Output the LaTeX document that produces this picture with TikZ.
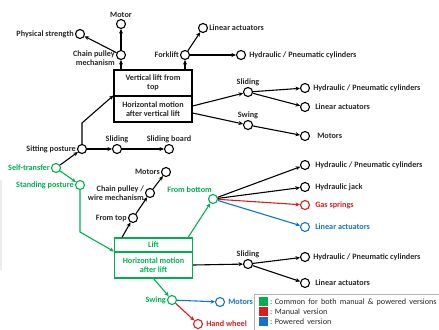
\documentclass[tikz,border=0pt]{standalone}
\usepackage{fontspec}
\setmainfont{Carlito}
\usetikzlibrary{arrows.meta,calc}
\definecolor{cgreen}{RGB}{0,176,80}
\definecolor{cred}{RGB}{215,30,30}
\definecolor{cblue}{RGB}{20,115,200}
\definecolor{ctext}{RGB}{40,40,40}
\begin{document}
\begin{tikzpicture}[x=1bp,y=-1bp,
  every node/.style={font=\fontsize{8.2}{9}\selectfont\bfseries,text=ctext},
  dot/.style={circle,draw,line width=1.1bp,minimum size=9bp,inner sep=0pt},
  lbl/.style={inner sep=1bp},
  rl/.style={inner sep=1bp,label distance=4bp},
  arr/.style={line width=1.1bp,-{Stealth[length=4.5bp,width=4bp]}},
  ln/.style={line width=1.1bp},
  box/.style={draw,line width=1.1bp,minimum width=78bp,align=center,inner sep=1bp},
  legtext/.style={font=\fontsize{8.2}{9}\selectfont,anchor=west,inner sep=0pt},
]
\useasboundingbox (0,0) rectangle (439,329);
\fill[gray!15] (0,180) rectangle (2,270);

% ---- top box
\node[box,minimum height=26bp] (vl) at (153,83) {Vertical lift from\\top};
\node[box,minimum height=26bp] (hm) at (153,109) {Horizontal motion\\after vertical lift};

\node[dot,label={[lbl,align=right,yshift=-3bp]left:{Chain pulley\\mechanism}}] (cpm) at (121,55) {};
\node[dot,label={[lbl]above:Motor}] (motor) at (121,24) {};
\node[dot,label={[lbl]left:Physical strength}] (phys) at (80,34) {};
\node[dot,label={[lbl]left:Forklift}] (fork) at (185,55) {};
\node[dot,label={[lbl]right:Linear actuators}] (la1) at (203,28) {};
\node[dot,label={[lbl,label distance=2bp]right:Hydraulic / Pneumatic cylinders}] (hp1) at (241,55) {};

\node[dot,label={[lbl]above:Sliding}] (sl1) at (248,92) {};
\node[dot,label={[lbl]above:Swing}] (sw1) at (248,125) {};
\node[dot,label={[rl,label distance=2bp]right:Hydraulic / Pneumatic cylinders}] (hp2) at (305,88) {};
\node[dot,label={[rl]right:Linear actuators}] (la2) at (305,107) {};
\node[dot,label={[rl,label distance=6bp]right:Motors}] (mo1) at (305,136) {};

% ---- left
\node[dot,label={[lbl]left:Sitting posture}] (sit) at (82,149) {};
\node[dot,label={[lbl]above:Sliding}] (sl0) at (117,149) {};
\node[dot,label={[lbl]above:Sliding board}] (sb) at (169,149) {};
\node[dot,draw=cgreen,label={[lbl,text=cgreen]left:Self-transfer}] (self) at (56,168) {};
\node[dot,draw=cgreen,label={[lbl,text=cgreen]left:Standing posture}] (stand) at (80,185) {};
\coordinate (bend1) at (82,123);
\coordinate (bend2) at (80,232);

% ---- lift box
\node[box,draw=cgreen,text=cgreen,minimum height=14bp] (lift) at (153.5,245) {Lift};
\node[box,draw=cgreen,text=cgreen,minimum height=26bp] (hml) at (153.5,265) {Horizontal motion\\after lift};

\node[dot,label={[lbl]left:From top}] (ft) at (133,218) {};
\node[dot,label={[lbl,align=right]left:{Chain pulley /\\wire mechanism}}] (cpw) at (150,193) {};
\node[dot,label={[lbl]left:Motors}] (mo0) at (166,172) {};

\node[dot,draw=cgreen,label={[lbl,text=cgreen,anchor=south east]north:From bottom}] (fb) at (213,199) {};
\node[dot,label={[rl]right:Hydraulic / Pneumatic cylinders}] (hp3) at (305,165) {};
\node[dot,label={[rl]right:Hydraulic jack}] (hj) at (305,187) {};
\node[dot,draw=cred,label={[rl,text=cred]right:Gas springs}] (gs) at (305,205) {};
\node[dot,draw=cblue,label={[rl,text=cblue]right:Linear actuators}] (la3) at (305,227) {};

\node[dot,label={[lbl]above:Sliding}] (sl2) at (248,264) {};
\node[dot,label={[rl,label distance=2bp]right:Hydraulic / Pneumatic cylinders}] (hp4) at (305,257) {};
\node[dot,label={[rl]right:Linear actuators}] (la4) at (305,283) {};

\node[dot,draw=cgreen,label={[lbl,text=cgreen]left:Swing}] (sw2) at (172,300) {};
\node[dot,draw=cblue,label={[rl,text=cblue,label distance=2bp]right:Motors}] (mo2) at (220,302) {};
\node[dot,draw=cred,label={[rl,text=cred,label distance=2bp]right:Hand wheel}] (hw) at (198,324) {};

% ---- connectors top
\draw[arr] (vl.north -| cpm) -- (cpm);
\draw[arr] (vl.north -| fork) -- (fork);
\draw[arr] (cpm) -- (motor);
\draw[arr] (cpm) -- (phys);
\draw[arr] (fork) -- (la1);
\draw[arr] (fork) -- (hp1);
\draw[arr] ($(hm.east)+(0,-3)$) -- (sl1);
\draw[arr] ($(hm.east)+(0,4)$) -- (sw1);
\draw[arr] (sl1) -- (hp2);
\draw[arr] (sl1) -- (la2);
\draw[arr] (sw1) -- (mo1);

% ---- connectors left
\draw[arr] (self) -- (sit);
\draw[arr,cgreen] (self) -- (stand);
\draw[arr] (sit) -- (bend1) -- (hm.north west);
\draw[arr] (sit) -- (sl0);
\draw[arr] (sl0) -- (sb);
\draw[arr,cgreen] (stand) -- (bend2) -- (hml.north west);

% ---- connectors lift
\draw[arr] ($(lift.north west)+(8,0)$) -- (ft);
\draw[arr] (ft) -- (cpw);
\draw[arr] (cpw) -- (mo0);
\draw[arr,cgreen] ($(lift.north east)+(-5,0)$) -- (fb);
\draw[arr] (fb) -- (hp3);
\draw[arr] (fb) -- (hj);
\draw[arr,cred] (fb) -- (gs);
\draw[arr,cblue] (fb) -- (la3);
\draw[arr] (hml.east) -- (sl2);
\draw[arr] (sl2) -- (hp4);
\draw[arr] (sl2) -- (la4);
\draw[arr,cgreen] (hml.south) -- (sw2);
\draw[arr,cblue] (sw2) -- (mo2);
\draw[arr,cred] (sw2) -- (hw);

% ---- legend
\draw[gray!60,line width=0.6bp] (254,294) rectangle (442,332);
\fill[cgreen] (259,297) rectangle (268,306);
\fill[cred] (259,307) rectangle (268,316);
\fill[cblue] (259,317) rectangle (268,326);
\node[legtext] (lg1) at (270,302) {: Common\, for\, both\, manual\, \&\, powered\, versions};
\node[legtext] (lg2) at (270,312) {: Manual\, version};
\node[legtext] (lg3) at (270,322) {: Powered\, version};
\end{tikzpicture}
\end{document}
